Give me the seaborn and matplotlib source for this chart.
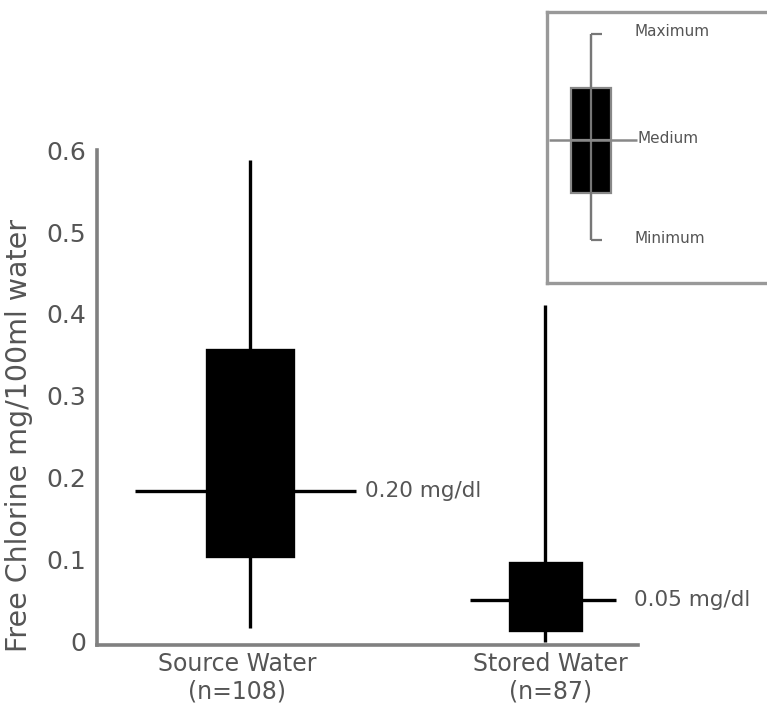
import pandas as pd
import matplotlib
matplotlib.use("Agg")
import matplotlib.pyplot as plt
import seaborn as sns

# -----------------------------
# Data (five-number summaries)
# -----------------------------
groups = ["Source Water\n(n=108)", "Stored Water\n(n=87)"]
minimum = [0.017, 0.0]
q1 = [0.105, 0.014]
median = [0.184, 0.051]
q3 = [0.356, 0.096]
maximum = [0.588, 0.411]
median_labels = ["0.20 mg/dl", "0.05 mg/dl"]
yticks = [0, 0.1, 0.2, 0.3, 0.4, 0.5, 0.6]
ytick_labels = ["0", "0.1", "0.2", "0.3", "0.4", "0.5", "0.6"]

# legend key: a generic box in its own 0..1 space
key_values = [0.159, 0.332, 0.528, 0.72, 0.919]
key_labels = ["Maximum", "Medium", "Minimum"]

rows = []
for g, a, b, c, d, e in zip(groups, minimum, q1, median, q3, maximum):
    for v in (a, b, c, d, e):
        rows.append([g, v])
df = pd.DataFrame(rows, columns=["group", "value"])

TEXT = "#555555"
SPINE = "#808080"

sns.set_style("white")
plt.rcParams["font.family"] = ["DejaVu Sans"]

fig = plt.figure(figsize=(7.67, 7.06), dpi=100)
ax = fig.add_axes([0.1265, 0.0864, 0.7055, 0.701])

# -----------------------------
# Main boxes (whiskers = min/max)
# -----------------------------
widths = [0.29, 0.24]
for g, w in zip(groups, widths):
    sns.boxplot(data=df[df["group"] == g], x="group", y="value", order=groups,
                whis=(0, 100), width=w, color="black", linecolor="black",
                linewidth=2.4, showcaps=False, showfliers=False, ax=ax)

# long median lines + labels
left_ext = [0.39, 0.254]
right_ext = [0.36, 0.24]
label_gap = [0.03, 0.06]
for i in range(len(groups)):
    ax.hlines(median[i], i - left_ext[i], i + right_ext[i], color="black",
              linewidth=2.4, zorder=5)
    ax.text(i + right_ext[i] + label_gap[i], median[i], median_labels[i],
            va="center", ha="left", fontsize=15.5, color=TEXT)

ax.set_xlim(-0.519, 1.315)
ax.set_ylim(-0.004, 0.6)
ax.set_xticks([-0.044, 1.017])
ax.set_xticklabels(groups)
ax.set_yticks(yticks)
ax.set_yticklabels(ytick_labels)
ax.tick_params(axis="y", length=0, pad=8, labelsize=18, labelcolor=TEXT)
ax.tick_params(axis="x", length=0, pad=5, labelsize=17, labelcolor=TEXT)
ax.set_xlabel("")
ax.set_ylabel("Free Chlorine mg/100ml water", fontsize=20.5, color=TEXT)
ax.yaxis.set_label_coords(-0.118, 0.424)
sns.despine(ax=ax)
for s in ("left", "bottom"):
    ax.spines[s].set_color(SPINE)
    ax.spines[s].set_linewidth(2.6)

# -----------------------------
# Legend key (inset, top right)
# -----------------------------
kax = fig.add_axes([0.713, 0.599, 0.32, 0.384])
sns.boxplot(y=key_values, whis=(0, 100), width=0.16, color="black",
            linecolor="#888888", linewidth=1.6, showcaps=False,
            showfliers=False, ax=kax)
kax.vlines(0, key_values[0], key_values[-1], color="#777777", linewidth=1.6, zorder=6)
kax.hlines([key_values[0], key_values[-1]], 0, 0.045, color="#777777", linewidth=1.6)
kax.hlines(key_values[2], -0.172, 0.187, color="#888888", linewidth=1.8, zorder=6)
kax.text(0.179, key_values[-1] + 0.01, key_labels[0], fontsize=11, color=TEXT, va="center")
kax.text(0.19, key_values[2] + 0.005, key_labels[1], fontsize=11, color=TEXT, va="center")
kax.text(0.175, key_values[0] + 0.005, key_labels[2], fontsize=11, color=TEXT, va="center")
kax.set_xlim(-0.18, 0.82)
kax.set_ylim(0, 1)
kax.set_xticks([])
kax.set_yticks([])
kax.set_ylabel("")
for s in kax.spines.values():
    s.set_color("#999999")
    s.set_linewidth(2.4)

fig.savefig("out.png", dpi=100)
